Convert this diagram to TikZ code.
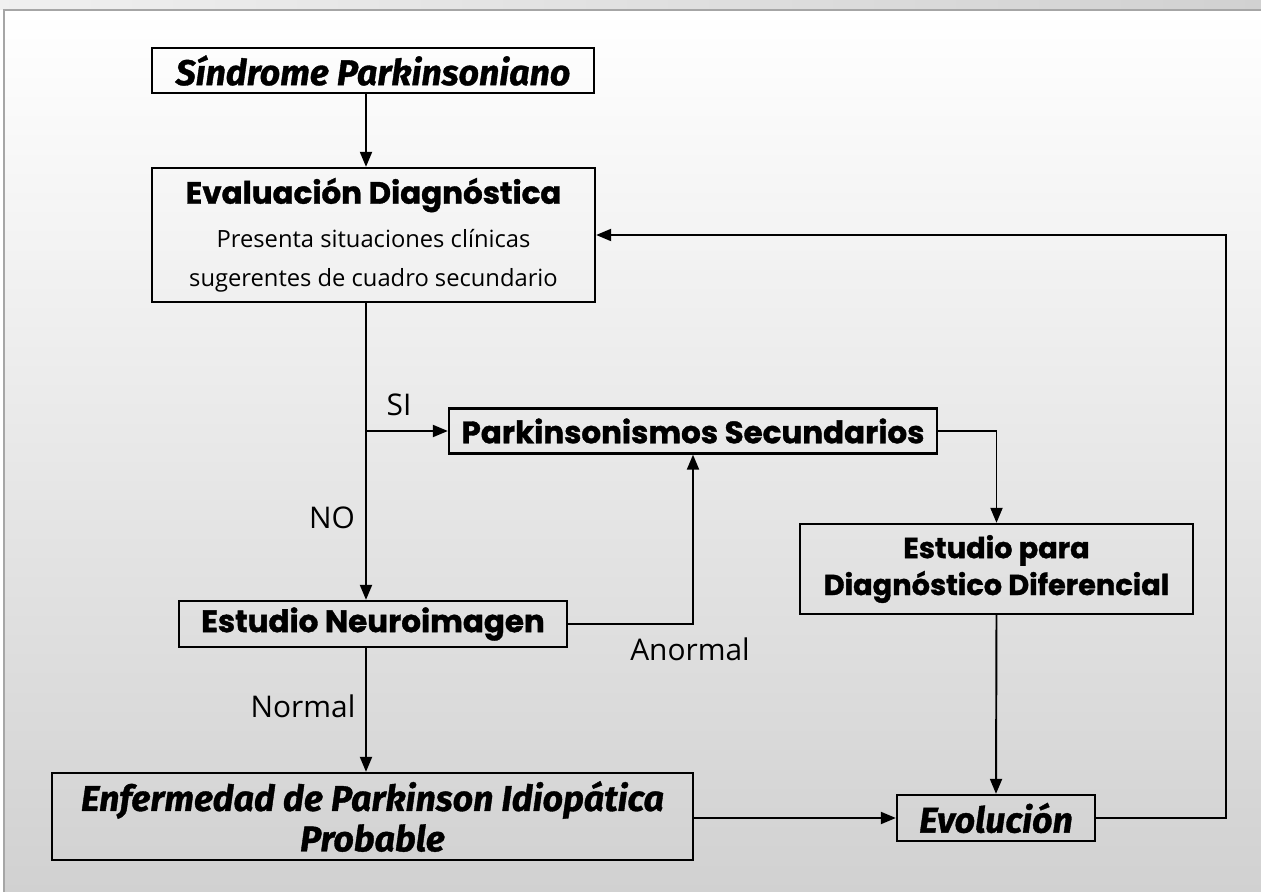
\documentclass[tikz,border=0pt]{standalone}
\usepackage{fontspec}
\setmainfont{Open Sans}
\newfontfamily\widefont{Poppins}[BoldFeatures={FakeBold=1.2}]
\newfontfamily\condfont{Fira Sans}[BoldItalicFeatures={FakeBold=1}]
\usetikzlibrary{arrows.meta,positioning,calc}

\tikzset{
  box/.style={draw, line width=1.3pt, inner sep=0pt, align=center},
  widebox/.style={box, font=\widefont\bfseries\fontsize{17.6}{22}\selectfont},
  condbox/.style={box, font=\condfont\bfseries\itshape\fontsize{20.3}{23}\selectfont},
  flow/.style={line width=1.1pt, -{Triangle[length=3mm,width=2.4mm]}},
  lbl/.style={font=\fontsize{17}{20}\selectfont, inner sep=0pt}
}

\begin{document}
\begin{tikzpicture}[x=0.2mm, y=-0.2mm]
  \useasboundingbox (0,0) rectangle (1261,892);

  % background
  \fill[white] (0,0) rectangle (1261,892);
  \shade[left color=black!6, right color=black!18] (0,0) rectangle (1261,10);
  \shade[top color=white, bottom color=black!18] (4,10) rectangle (1261,892);
  \draw[black!35, line width=0.6pt] (4,892) -- (4,10) -- (1261,10);

  % boxes
  \node[condbox, minimum width=88.4mm, minimum height=9mm] (sind) at (373,70.5) {Síndrome Parkinsoniano};
  \node[widebox, minimum width=88.6mm, minimum height=26.8mm] (eval) at (373.5,235)
    {Evaluación Diagnóstica\\[3pt]
     \normalfont\fontsize{13.5}{18}\selectfont Presenta situaciones clínicas\\
     \normalfont\fontsize{13.5}{18}\selectfont sugerentes de cuadro secundario};
  \node[widebox, minimum width=97.6mm, minimum height=9mm] (psec) at (693,431) {Parkinsonismos Secundarios};
  \node[widebox, minimum width=78.6mm, minimum height=18mm, font=\widefont\bfseries\fontsize{16.4}{21}\selectfont] (ediag) at (996.5,569) {Estudio para\\ Diagnóstico Diferencial};
  \node[widebox, minimum width=77.6mm, minimum height=9.2mm] (nimg) at (373,624) {Estudio Neuroimagen};
  \node[condbox, minimum width=128.2mm, minimum height=17.4mm] (enf) at (372.5,816.5) {Enfermedad de Parkinson Idiopática\\ Probable};
  \node[condbox, minimum width=39.6mm, minimum height=9.2mm] (evol) at (996,818) {Evolución};

  % helper points
  \coordinate (fork) at (366,431);
  \coordinate (ret) at (1226,235);

  % connectors
  \draw[flow] (sind.south -| fork) -- (eval.north -| fork);
  \draw[flow] (eval.south -| fork) -- (nimg.north -| fork);
  \draw[flow] (fork) -- (psec.west);
  \draw[flow] (nimg.east) -| (psec.south);
  \draw[flow] (psec.east) -| (ediag.north);
  \draw[flow] (nimg.south -| fork) -- (enf.north -| fork);
  \draw[flow] (ediag.south) -- (evol.north);
  \draw[flow] (enf.east |- evol.west) -- (evol.west);
  \draw[flow] (evol.east) -| (ret) -- (eval.east |- ret);

  % labels
  \node[lbl] (si) at (399,405) {SI};
  \node[lbl] (no) at (332,518) {NO};
  \node[lbl] (normal) at (303,706) {Normal};
  \node[lbl] (anormal) at (690,649) {Anormal};
\end{tikzpicture}
\end{document}
